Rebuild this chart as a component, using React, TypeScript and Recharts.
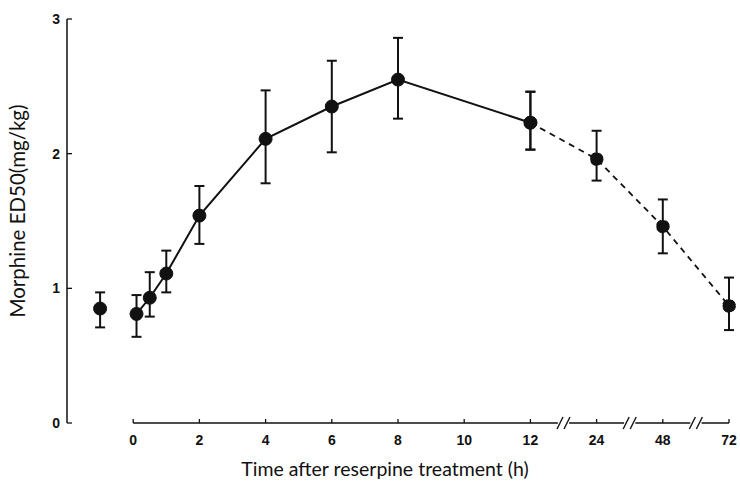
import React from "react";
import {
  ComposedChart,
  Line,
  XAxis,
  YAxis,
  ErrorBar,
  ReferenceLine,
  ReferenceDot,
  Label,
} from "recharts";

// control value, measured before reserpine
const controlPos = [-1];
const controlEd50 = [0.85];
const controlUpper = [0.97];
const controlLower = [0.71];

// 0-12 h after reserpine (solid line)
const earlyHours = [0.1, 0.5, 1, 2, 4, 6, 8, 12];
const earlyEd50 = [0.81, 0.93, 1.11, 1.54, 2.11, 2.35, 2.55, 2.23];
const earlyUpper = [0.95, 1.12, 1.28, 1.76, 2.47, 2.69, 2.86, 2.46];
const earlyLower = [0.64, 0.79, 0.97, 1.33, 1.78, 2.01, 2.26, 2.03];

// 12-72 h (dashed line, broken axis)
const lateHours = [12, 24, 48, 72];
const lateEd50 = [2.23, 1.96, 1.46, 0.87];
const lateUpper = [2.46, 2.17, 1.66, 1.08];
const lateLower = [2.03, 1.8, 1.26, 0.69];

const tickHours = [0, 2, 4, 6, 8, 10, 12, 24, 48, 72];
const tickPositions = [0, 2, 4, 6, 8, 10, 12, 14, 16, 18];
const breakPositions = [13, 15, 17];
const yTicks = [0, 1, 2, 3];

const INK = "#111";
const TICK_FONT = "'Liberation Sans', Arial, sans-serif";
const TITLE_FONT = "Lato, 'Open Sans', sans-serif";

// hours -> position on the broken axis
const toPos = (h: number) =>
  h <= 12 ? h : tickPositions[tickHours.indexOf(h)];

const rows = (xs: number[], ys: number[], up: number[], lo: number[]) =>
  xs.map((x, i) => ({
    x,
    y: ys[i],
    err: [ys[i] - lo[i], up[i] - ys[i]],
  }));

const controlData = rows(controlPos, controlEd50, controlUpper, controlLower);
const earlyData = rows(earlyHours.map(toPos), earlyEd50, earlyUpper, earlyLower);
const lateData = rows(lateHours.map(toPos), lateEd50, lateUpper, lateLower);

const gap = 0.17;
const axisEnd = tickPositions[tickPositions.length - 1];
const axisStops = [0, ...breakPositions, axisEnd];
const axisSegments = axisStops.slice(0, -1).map((a, i) => [
  i === 0 ? a : a + gap,
  i === axisStops.length - 2 ? axisStops[i + 1] : axisStops[i + 1] - gap,
]);

const XTick = (props: any) => {
  const { x, y, payload } = props;
  const label = tickHours[tickPositions.indexOf(payload.value)];
  return (
    <g>
      <line x1={x} x2={x} y1={y} y2={y - 4} stroke={INK} strokeWidth={1.3} />
      <text
        x={x}
        y={y + 22}
        textAnchor="middle"
        fontFamily={TICK_FONT}
        fontWeight="bold"
        fontSize={14}
        fill={INK}
      >
        {label}
      </text>
    </g>
  );
};

const YTick = (props: any) => {
  const { x, y, payload } = props;
  return (
    <g>
      <line x1={x} x2={x + 5} y1={y} y2={y} stroke={INK} strokeWidth={1.3} />
      <text
        x={x - 7}
        y={y + 5}
        textAnchor="end"
        fontFamily={TICK_FONT}
        fontWeight="bold"
        fontSize={14}
        fill={INK}
      >
        {payload.value}
      </text>
    </g>
  );
};

const BreakMark = (props: any) => {
  const { cx, cy } = props;
  return (
    <g stroke={INK} strokeWidth={1.4}>
      {[-3.5, 3.5].map((d) => (
        <line key={d} x1={cx + d - 3} y1={cy + 6} x2={cx + d + 3} y2={cy - 6} />
      ))}
    </g>
  );
};

const YTitle = (props: any) => {
  const { x, y, height } = props.viewBox;
  const cx = x + 25;
  const cy = y + height / 2 - 10;
  return (
    <text
      x={cx}
      y={cy}
      transform={`rotate(-90 ${cx} ${cy})`}
      textAnchor="middle"
      fontFamily={TITLE_FONT}
      fontSize={20.5}
      fill={INK}
    >
      Morphine ED50(mg/kg)
    </text>
  );
};

export default function App() {
  return (
    <div style={{ position: "absolute", left: 0, top: 0, background: "#fff" }}>
      <ComposedChart
        width={740}
        height={490}
        margin={{ top: 19, right: 11, bottom: 12, left: 0 }}
      >
        <XAxis
          dataKey="x"
          type="number"
          domain={[-2, axisEnd]}
          ticks={tickPositions}
          interval={0}
          axisLine={false}
          tickLine={false}
          tickSize={0}
          tickMargin={0}
          tick={<XTick />}
          height={55}
        >
          <Label
            value="Time after reserpine treatment (h)"
            position="insideBottom"
            offset={2}
            dx={-13}
            fontFamily={TITLE_FONT}
            fontSize={19.5}
            fill={INK}
          />
        </XAxis>
        <YAxis
          type="number"
          domain={[0, 3]}
          ticks={yTicks}
          interval={0}
          width={67}
          axisLine={{ stroke: INK, strokeWidth: 1.5 }}
          tickLine={false}
          tickSize={0}
          tickMargin={0}
          tick={<YTick />}
        >
          <Label content={<YTitle />} />
        </YAxis>

        {axisSegments.map(([a, b]) => (
          <ReferenceLine
            key={a}
            segment={[
              { x: a, y: 0 },
              { x: b, y: 0 },
            ]}
            stroke={INK}
            strokeWidth={1.5}
          />
        ))}
        {breakPositions.map((b) => (
          <ReferenceDot
            key={b}
            x={b}
            y={0}
            r={6}
            shape={<BreakMark />}
            ifOverflow="visible"
          />
        ))}

        <Line
          data={controlData}
          dataKey="y"
          stroke="none"
          dot={{ r: 6.5, fill: INK, stroke: INK, strokeWidth: 1 }}
          isAnimationActive={false}
        >
          <ErrorBar dataKey="err" width={5} stroke={INK} strokeWidth={2} />
        </Line>
        <Line
          data={lateData}
          dataKey="y"
          stroke={INK}
          strokeWidth={1.8}
          strokeDasharray="6 5"
          dot={{ r: 6.5, fill: INK, stroke: INK, strokeWidth: 1 }}
          isAnimationActive={false}
        >
          <ErrorBar dataKey="err" width={5} stroke={INK} strokeWidth={2} />
        </Line>
        <Line
          data={earlyData}
          dataKey="y"
          stroke={INK}
          strokeWidth={2}
          dot={{ r: 6.5, fill: INK, stroke: INK, strokeWidth: 1 }}
          isAnimationActive={false}
        >
          <ErrorBar dataKey="err" width={5} stroke={INK} strokeWidth={2} />
        </Line>
      </ComposedChart>
    </div>
  );
}
